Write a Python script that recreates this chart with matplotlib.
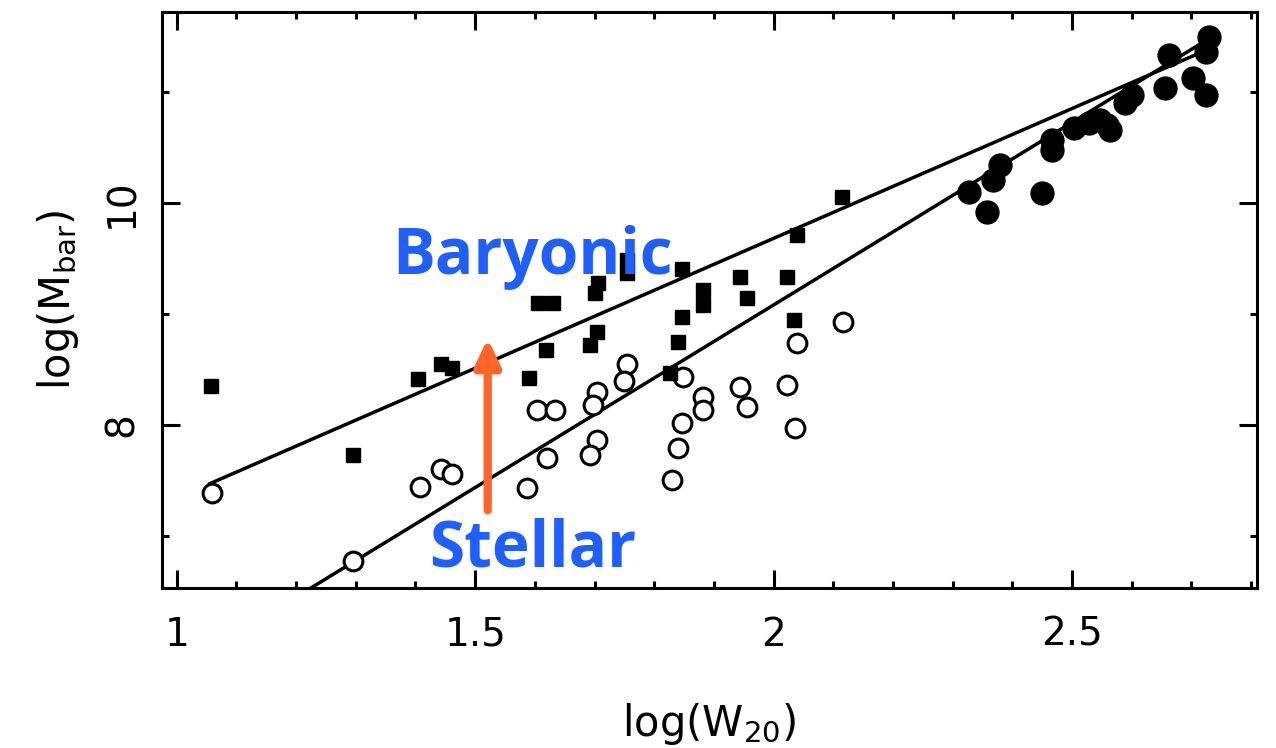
import numpy as np
import matplotlib
matplotlib.use("Agg")
import matplotlib.pyplot as plt
from matplotlib.ticker import MultipleLocator, FixedLocator

# baryonic masses of gas-rich galaxies (filled squares)
bar_x = [1.057, 1.295, 1.405, 1.442, 1.462, 1.590, 1.605, 1.630, 1.618, 1.693,
         1.704, 1.705, 1.700, 1.754, 1.754, 1.826, 1.846, 1.881, 1.881, 1.943,
         1.955, 2.023, 1.846, 1.839, 2.034, 2.040, 2.114]
bar_y = [8.351, 7.730, 8.414, 8.550, 8.514, 8.423, 9.099, 9.099, 8.676, 8.721,
         8.838, 9.279, 9.189, 9.486, 9.369, 8.468, 9.405, 9.216, 9.081, 9.333,
         9.144, 9.333, 8.973, 8.748, 8.946, 9.712, 10.054]

# stellar masses of the same galaxies (open circles)
star_x = [1.059, 1.295, 1.407, 1.442, 1.462, 1.586, 1.603, 1.633, 1.620, 1.704,
          1.692, 1.704, 1.697, 1.755, 1.750, 1.849, 1.829, 1.839, 1.846, 1.881,
          1.881, 1.943, 1.955, 2.022, 2.035, 2.039, 2.116]
star_y = [7.387, 6.775, 7.441, 7.604, 7.559, 7.432, 8.135, 8.135, 7.703, 7.865,
          7.730, 8.297, 8.180, 8.550, 8.396, 8.432, 7.505, 7.793, 8.018, 8.252,
          8.135, 8.342, 8.162, 8.360, 7.973, 8.739, 8.928]

# bright star-dominated galaxies (big filled circles)
big_x = [2.327, 2.358, 2.367, 2.379, 2.449, 2.467, 2.467, 2.504, 2.529, 2.546,
         2.559, 2.563, 2.588, 2.601, 2.655, 2.663, 2.702, 2.725, 2.725, 2.730]
big_y = [10.099, 9.919, 10.207, 10.342, 10.090, 10.568, 10.477, 10.676, 10.721, 10.748,
         10.703, 10.658, 10.901, 10.973, 11.036, 11.333, 11.126, 10.973, 11.360, 11.495]

# fitted relations: slope, intercept, x range
bar_fit = (2.34, 5.0, 1.055, 2.72)
star_fit = (3.29, 2.50, 1.20, 2.72)

fig = plt.figure(figsize=(12.76, 7.48), dpi=100)
ax = fig.add_axes([0.127, 0.214, 0.858, 0.770])

for slope, icpt, x0, x1 in (bar_fit, star_fit):
    xx = np.array([x0, x1])
    ax.plot(xx, slope * xx + icpt, color="black", lw=2.5, zorder=2)

ax.plot(star_x, star_y, "o", ms=13.5, mfc="white", mec="black", mew=2.2, zorder=3)
ax.plot(bar_x, bar_y, "s", ms=10, color="black", zorder=4)
ax.plot(big_x, big_y, "o", ms=16.5, color="black", zorder=4)

ax.set_xlim(0.9754, 2.8096)
ax.set_ylim(6.53, 11.72)

ax.xaxis.set_major_locator(FixedLocator([1, 1.5, 2, 2.5]))
ax.xaxis.set_minor_locator(MultipleLocator(0.1))
ax.yaxis.set_major_locator(FixedLocator([8, 10]))
ax.yaxis.set_minor_locator(FixedLocator([7, 9, 11]))
ax.set_xticklabels(["1", "1.5", "2", "2.5"])
ax.set_yticklabels(["8", "10"], rotation=90, va="center")

ax.tick_params(which="both", direction="in", top=True, right=True, width=2.2,
               labelsize=28)
ax.tick_params(which="major", length=13)
ax.tick_params(which="minor", length=5)
ax.tick_params(axis="x", pad=20)
ax.tick_params(axis="y", pad=15)
for s in ax.spines.values():
    s.set_linewidth(2.2)

ax.set_xlabel(r"log(W$_{20}$)", fontsize=30, labelpad=34)
ax.set_ylabel(r"log(M$_{\rm bar}$)", fontsize=30, labelpad=16)

blue = "#1f5eff"
ax.text(1.596, 9.51, "Baryonic", color=blue, fontsize=46, fontweight="bold",
        family="Open Sans", ha="center", va="center", zorder=6)
ax.text(1.596, 6.87, "Stellar", color=blue, fontsize=46, fontweight="bold",
        family="Open Sans", ha="center", va="center", zorder=6)
ax.annotate("", xy=(1.521, 8.78), xytext=(1.521, 7.23),
            arrowprops=dict(arrowstyle="-|>,head_length=1.6,head_width=0.75",
                            color="#ff6528", lw=6, shrinkA=0, shrinkB=0),
            zorder=6)

fig.savefig("out.png", dpi=100)
